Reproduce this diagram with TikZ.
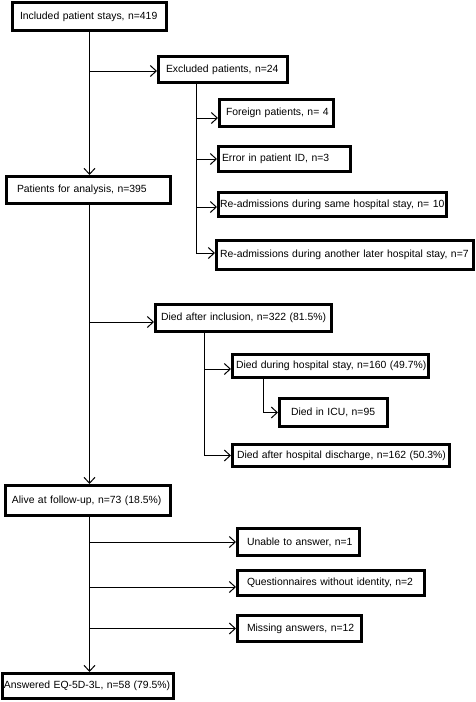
\documentclass[tikz,border=0pt]{standalone}
\usepackage{fontspec}
\setmainfont{Liberation Sans}
\usetikzlibrary{arrows.meta,calc}
\tikzset{
  box/.style={draw, line width=3pt, align=left, inner ysep=0pt,
    font=\fontsize{10.4}{12}\selectfont},
  conn/.style={line width=1pt},
  arr/.style={conn, -{Straight Barb[length=6pt,width=11pt,line width=1pt]}}
}
\newcommand\fbx[7]{%
  \pgfmathsetmacro\bw{#4-#2-3}%
  \pgfmathsetmacro\bh{#5-#3-3}%
  \pgfmathsetmacro\bp{#6-1.5}%
  \pgfmathsetmacro\tw{\bw-2*\bp}%
  \node[box, minimum width=\bw pt, minimum height=\bh pt, inner xsep=\bp pt,
    text width=\tw pt] (#1) at ({(#2+#4)/2},{(#3+#5)/2}) {\mbox{#7}};%
}
\begin{document}
\begin{tikzpicture}[x=1pt,y=-1pt]
\useasboundingbox (0,0) rectangle (475,702);
\fbx{inc}{11}{1}{168}{32}{9}{Included patient stays, n=419}
\fbx{excl}{157}{55}{289}{84}{9}{Excluded patients, n=24}
\fbx{foreign}{218}{98}{335}{128}{8}{Foreign patients, n= 4}
\fbx{error}{217}{145}{352}{173}{5}{Error in patient ID, n=3}
\fbx{readmA}{217}{191}{448}{218}{3}{Re-admissions during same hospital stay, n= 10}
\fbx{readmB}{215}{239}{475}{271}{5}{Re-admissions during another later hospital stay, n=7}
\fbx{pfa}{5}{175}{172}{205}{12}{Patients for analysis, n=395}
\fbx{died}{154}{303}{333}{333}{7}{Died after inclusion, n=322 (81.5\%)}
\fbx{hosp}{231}{353}{430}{379}{5}{Died during hospital stay, n=160 (49.7\%)}
\fbx{icu}{278}{397}{389}{428}{13}{Died in ICU, n=95}
\fbx{disch}{231}{443}{451}{468}{6}{Died after hospital discharge, n=162 (50.3\%)}
\fbx{alive}{4}{484}{172}{517}{8}{Alive at follow-up, n=73 (18.5\%)}
\fbx{unable}{236}{527}{361}{557}{11}{Unable to answer, n=1}
\fbx{quest}{236}{569}{426}{597}{11}{Questionnaires without identity, n=2}
\fbx{missing}{236}{614}{363}{643}{11}{Missing answers, n=12}
\fbx{answ}{1}{672}{175}{700}{3}{Answered EQ-5D-3L, n=58 (79.5\%)}
% trunk coordinates
\coordinate (tr) at (89.5,0);
\coordinate (ex) at (196,0);
\coordinate (dx) at (204,0);
\coordinate (hx) at (263,0);
% main trunk
\draw[arr] (inc.south -| tr) -- (pfa.north -| tr);
\draw[arr] ($(excl.west -| tr)+(0,1.5)$) -- ($(excl.west)+(0,1.5)$);
\draw[arr] (pfa.south -| tr) -- (alive.north -| tr);
\draw[arr] ($(died.west -| tr)+(0,4)$) -- ($(died.west)+(0,4)$);
\draw[arr] (alive.south -| tr) -- (answ.north -| tr);
\draw[arr] (unable.west -| tr) -- (unable.west);
\draw[arr] ($(quest.west -| tr)+(0,4)$) -- ($(quest.west)+(0,4)$);
\draw[arr] (missing.west -| tr) -- (missing.west);
% excluded branch
\draw[arr] (excl.south -| ex) |- ($(readmB.west)+(0,-2)$);
\draw[arr] ($(foreign.west -| ex)+(0,5)$) -- ($(foreign.west)+(0,5)$);
\draw[arr] (error.west -| ex) -- (error.west);
\draw[arr] ($(readmA.west -| ex)+(0,2.5)$) -- ($(readmA.west)+(0,2.5)$);
% died branch
\draw[arr] (died.south -| dx) |- (disch.west);
\draw[arr] ($(hosp.west -| dx)+(0,3)$) -- ($(hosp.west)+(0,3)$);
\draw[arr] (hosp.south -| hx) |- (icu.west);
\end{tikzpicture}
\end{document}
